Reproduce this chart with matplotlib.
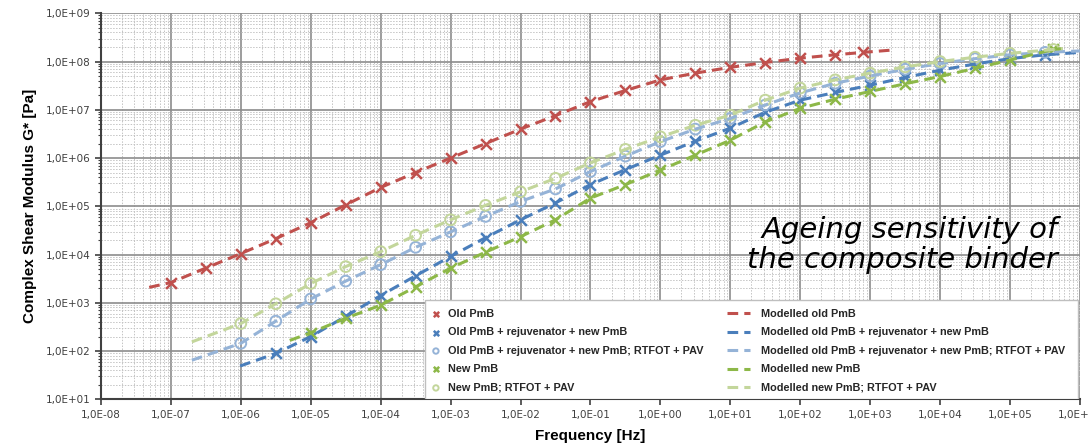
import math
import matplotlib
matplotlib.use('Agg')
import matplotlib.pyplot as plt
from matplotlib.patches import Rectangle
from matplotlib.ticker import LogLocator, FuncFormatter, NullFormatter

# log10(frequency) / log10(G*)
red_logf = [-7.31, -7.0, -6.5, -6.0, -5.5, -5.0, -4.5, -4.0, -3.5, -3.0, -2.5, -2.0,
            -1.5, -1.0, -0.5, 0.0, 0.5, 1.0, 1.5, 2.0, 2.5, 2.9, 3.33]
red_logg = [3.32, 3.42, 3.72, 4.02, 4.33, 4.66, 5.03, 5.39, 5.70, 6.00, 6.30, 6.60,
            6.88, 7.17, 7.40, 7.62, 7.76, 7.88, 7.98, 8.07, 8.14, 8.19, 8.24]

blue_logf = [-6.01, -5.5, -5.0, -4.5, -4.0, -3.5, -3.0, -2.5, -2.0, -1.5, -1.0, -0.5,
             0.0, 0.5, 1.0, 1.5, 2.0, 2.5, 3.0, 3.5, 4.0, 4.5, 5.0, 5.5, 6.0]
blue_logg = [1.69, 1.95, 2.30, 2.72, 3.15, 3.56, 3.96, 4.35, 4.72, 5.07, 5.45, 5.76,
             6.06, 6.35, 6.62, 6.95, 7.20, 7.36, 7.51, 7.67, 7.82, 7.95, 8.06, 8.14, 8.19]

lblue_logf = [-6.70, -6.0, -5.5, -5.0, -4.5, -4.0, -3.5, -3.0, -2.5, -2.0, -1.5, -1.0,
              -0.5, 0.0, 0.5, 1.0, 1.5, 2.0, 2.5, 3.0, 3.5, 4.0, 4.5, 5.0, 5.5, 6.0]
lblue_logg = [1.81, 2.16, 2.62, 3.08, 3.45, 3.79, 4.15, 4.47, 4.79, 5.10, 5.36, 5.72,
              6.04, 6.34, 6.60, 6.82, 7.10, 7.35, 7.55, 7.70, 7.84, 7.96, 8.06, 8.14, 8.19, 8.22]

green_logf = [-5.3, -5.0, -4.5, -4.0, -3.5, -3.0, -2.5, -2.0, -1.5, -1.0, -0.5, 0.0,
              0.5, 1.0, 1.5, 2.0, 2.5, 3.0, 3.5, 4.0, 4.5, 5.0, 5.62, 5.75]
green_logg = [2.22, 2.38, 2.68, 2.95, 3.33, 3.72, 4.05, 4.37, 4.72, 5.17, 5.45, 5.75,
              6.06, 6.37, 6.75, 7.03, 7.22, 7.38, 7.54, 7.69, 7.86, 8.03, 8.25, 8.27]

lgreen_logf = [-6.70, -6.0, -5.5, -5.0, -4.5, -4.0, -3.5, -3.0, -2.5, -2.0, -1.5, -1.0,
               -0.5, 0.0, 0.5, 1.0, 1.5, 2.0, 2.5, 3.0, 3.5, 4.0, 4.5, 5.0, 5.62, 5.75]
lgreen_logg = [2.19, 2.57, 2.98, 3.40, 3.75, 4.06, 4.40, 4.72, 5.02, 5.30, 5.58, 5.90,
               6.18, 6.44, 6.68, 6.89, 7.20, 7.45, 7.62, 7.76, 7.89, 8.00, 8.09, 8.17, 8.25, 8.27]

labels_meas = ['Old PmB', 'Old PmB + rejuvenator + new PmB',
               'Old PmB + rejuvenator + new PmB; RTFOT + PAV',
               'New PmB', 'New PmB; RTFOT + PAV']
labels_model = ['Modelled old PmB', 'Modelled old PmB + rejuvenator + new PmB',
                'Modelled old PmB + rejuvenator + new PmB; RTFOT + PAV',
                'Modelled new PmB', 'Modelled new PmB; RTFOT + PAV']

series = [
    (red_logf, red_logg, '#C0504D', 'x'),
    (blue_logf, blue_logg, '#4A7EBB', 'x'),
    (lblue_logf, lblue_logg, '#95B3D7', 'o'),
    (green_logf, green_logg, '#8DB848', 'x'),
    (lgreen_logf, lgreen_logg, '#C3D69B', 'o'),
]

plt.rcParams['font.family'] = ['Liberation Sans', 'DejaVu Sans']

fig = plt.figure(figsize=(10.89, 4.46), dpi=100)
ax = fig.add_axes([0.0927, 0.1047, 0.8990, 0.8655])

meas_handles = []
model_handles = []
for (lf, lg, col, mk), lab in zip(series, labels_meas):
    f = [10 ** v for v in lf]
    g = [10 ** v for v in lg]
    if mk == 'x':
        h = ax.scatter(f[1:-1], g[1:-1], marker='x', s=60, color=col, linewidths=1.8,
                       label=lab, zorder=3)
    else:
        h = ax.scatter(f[1:-1], g[1:-1], marker='o', s=60, facecolors='none',
                       edgecolors=col, linewidths=1.4, label=lab, zorder=3)
    meas_handles.append(h)

for (lf, lg, col, mk), lab in zip(series, labels_model):
    f = [10 ** v for v in lf]
    g = [10 ** v for v in lg]
    ln, = ax.plot(f, g, color=col, lw=2.2, ls=(0, (3.5, 2.0)), label=lab, zorder=4)
    model_handles.append(ln)

ax.set_xscale('log')
ax.set_yscale('log')
ax.set_xlim(1e-8, 1e6)
ax.set_ylim(1e1, 1e9)

ax.xaxis.set_major_locator(LogLocator(base=10, numticks=30))
ax.yaxis.set_major_locator(LogLocator(base=10, numticks=30))
ax.xaxis.set_minor_locator(LogLocator(base=10, subs=range(2, 10), numticks=30))
ax.yaxis.set_minor_locator(LogLocator(base=10, subs=range(2, 10), numticks=30))
fmt = FuncFormatter(lambda v, p: '1,0E{:+03d}'.format(int(round(math.log10(v)))))
ax.xaxis.set_major_formatter(fmt)
ax.yaxis.set_major_formatter(fmt)
ax.xaxis.set_minor_formatter(NullFormatter())
ax.yaxis.set_minor_formatter(NullFormatter())

ax.grid(True, which='major', color='#8c8c8c', lw=1.2)
ax.grid(True, which='minor', color='#c4c4c4', lw=0.7, ls=(0, (1.5, 1.5)))
ax.set_axisbelow(True)

for s in ['top', 'right']:
    ax.spines[s].set_visible(False)
for s in ['left', 'bottom']:
    ax.spines[s].set_color('#404040')
    ax.spines[s].set_linewidth(1.5)

ax.tick_params(axis='both', which='major', direction='out', length=4, width=1.2,
               color='#404040', labelsize=7.5, labelcolor='#404040')
ax.tick_params(axis='y', which='minor', direction='out', length=2.5, width=0.8, color='#404040')
ax.tick_params(axis='x', which='minor', length=0)
for t in ax.get_xticklabels() + ax.get_yticklabels():
    t.set_family('DejaVu Sans')

ax.set_xlabel('Frequency [Hz]', fontsize=11, fontweight='bold', labelpad=7)
ax.set_ylabel('Complex Shear Modulus G* [Pa]', fontsize=11, fontweight='bold', labelpad=6)

# legend frame + two frameless legends (short handle for markers, long for lines)
ax.add_patch(Rectangle((0.331, 0.0), 0.667, 0.257, transform=ax.transAxes,
                       facecolor='white', edgecolor='#bfbfbf', lw=1.0, zorder=5))
leg1 = ax.legend(handles=meas_handles, loc='upper left', bbox_to_anchor=(0.3366, 0.234),
                 fontsize=7.8, frameon=False, borderaxespad=0, borderpad=0,
                 labelspacing=0.78, handlelength=1.0, handletextpad=0.6,
                 markerscale=0.5, scatterpoints=1)
leg2 = ax.legend(handles=model_handles, loc='upper left', bbox_to_anchor=(0.6394, 0.234),
                 fontsize=7.8, frameon=False, borderaxespad=0, borderpad=0,
                 labelspacing=0.78, handlelength=2.1, handletextpad=1.0)
ax.add_artist(leg1)
for lg in (leg1, leg2):
    lg.set_zorder(6)
    for t in lg.get_texts():
        t.set_fontweight('bold')
        t.set_color('#262626')

ax.text(0.977, 0.40, 'Ageing sensitivity of\nthe composite binder', transform=ax.transAxes,
        ha='right', va='center', fontsize=21, style='italic', family='DejaVu Sans',
        linespacing=1.12, zorder=6)

fig.savefig('out.png', dpi=100)
